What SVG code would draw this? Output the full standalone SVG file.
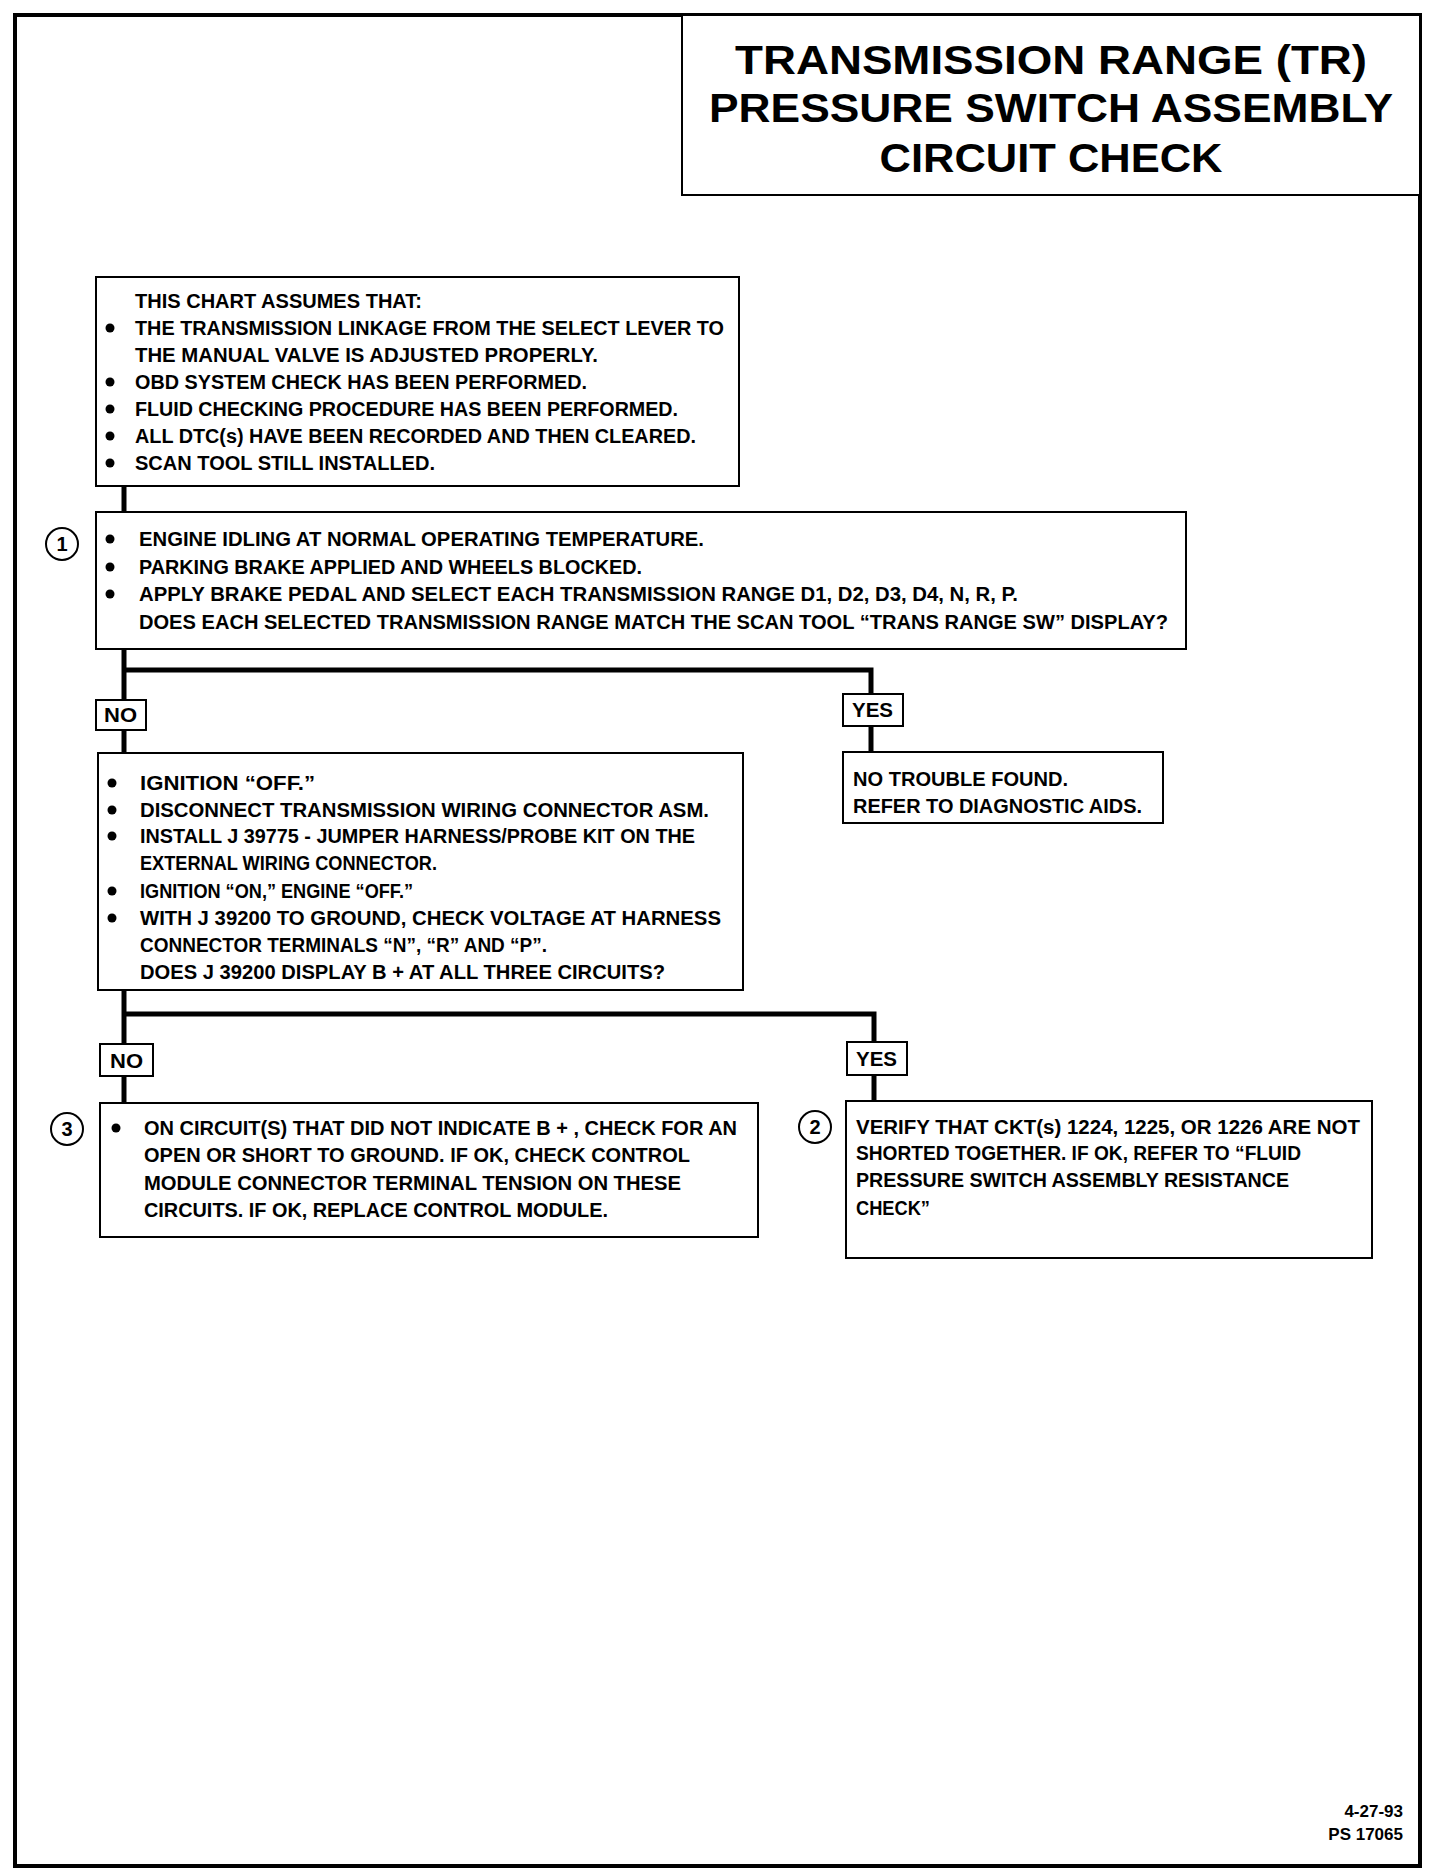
<svg xmlns="http://www.w3.org/2000/svg" width="1440" height="1876" viewBox="0 0 1440 1876">
<style>
.t{font-family:"Liberation Sans",Arial,sans-serif;font-weight:bold;font-size:20px;fill:#000}
.ti{font-family:"Liberation Sans",Arial,sans-serif;font-weight:bold;font-size:41px;fill:#000;text-anchor:middle}
.box{fill:#fff;stroke:#000;stroke-width:2}
.lbl{fill:#fff;stroke:#000;stroke-width:2}
.c{fill:none;stroke:#000;stroke-width:5}
.circ{fill:#fff;stroke:#000;stroke-width:2}
.num{font-family:"Liberation Sans",Arial,sans-serif;font-weight:bold;font-size:20px;text-anchor:middle}
</style>
<defs><circle id="b" r="4.5" fill="#000"/></defs>
<rect x="0" y="0" width="1440" height="1876" fill="#fff"/>
<rect x="15" y="15" width="1405" height="1851" fill="none" stroke="#000" stroke-width="4"/>

<g id="connectors">
<path class="c" d="M124 486V753"/>
<path class="c" d="M124 670H871V694"/>
<path class="c" d="M871 726V752"/>
<path class="c" d="M124 990V1103"/>
<path class="c" d="M124 1014H874V1042"/>
<path class="c" d="M874 1075V1101"/>
</g>

<g id="title">
<rect class="box" x="682" y="15" width="738" height="180"/>
<text class="ti" x="1051" y="74" textLength="632" lengthAdjust="spacingAndGlyphs">TRANSMISSION RANGE (TR)</text>
<text class="ti" x="1051" y="122" textLength="684" lengthAdjust="spacingAndGlyphs">PRESSURE SWITCH ASSEMBLY</text>
<text class="ti" x="1051" y="172" textLength="343" lengthAdjust="spacingAndGlyphs">CIRCUIT CHECK</text>
</g>

<g id="assumptions">
<rect class="box" x="96" y="277" width="643" height="209"/>
<text class="t" x="135" y="308" textLength="287" lengthAdjust="spacingAndGlyphs">THIS CHART ASSUMES THAT:</text>
<use href="#b" x="110" y="328"/>
<text class="t" x="135" y="335" textLength="589" lengthAdjust="spacingAndGlyphs">THE TRANSMISSION LINKAGE FROM THE SELECT LEVER TO</text>
<text class="t" x="135" y="362" textLength="463" lengthAdjust="spacingAndGlyphs">THE MANUAL VALVE IS ADJUSTED PROPERLY.</text>
<use href="#b" x="110" y="382"/>
<text class="t" x="135" y="389" textLength="452" lengthAdjust="spacingAndGlyphs">OBD SYSTEM CHECK HAS BEEN PERFORMED.</text>
<use href="#b" x="110" y="409"/>
<text class="t" x="135" y="416" textLength="543" lengthAdjust="spacingAndGlyphs">FLUID CHECKING PROCEDURE HAS BEEN PERFORMED.</text>
<use href="#b" x="110" y="436"/>
<text class="t" x="135" y="443" textLength="561" lengthAdjust="spacingAndGlyphs">ALL DTC(s) HAVE BEEN RECORDED AND THEN CLEARED.</text>
<use href="#b" x="110" y="463"/>
<text class="t" x="135" y="470" textLength="300" lengthAdjust="spacingAndGlyphs">SCAN TOOL STILL INSTALLED.</text>
</g>

<g id="step1">
<rect class="box" x="96" y="512" width="1090" height="137"/>
<circle class="circ" cx="62" cy="544" r="16"/>
<text class="num" x="62" y="551">1</text>
<use href="#b" x="110" y="539"/>
<text class="t" x="139" y="546" textLength="565" lengthAdjust="spacingAndGlyphs">ENGINE IDLING AT NORMAL OPERATING TEMPERATURE.</text>
<use href="#b" x="110" y="567"/>
<text class="t" x="139" y="574" textLength="503" lengthAdjust="spacingAndGlyphs">PARKING BRAKE APPLIED AND WHEELS BLOCKED.</text>
<use href="#b" x="110" y="594"/>
<text class="t" x="139" y="601" textLength="879" lengthAdjust="spacingAndGlyphs">APPLY BRAKE PEDAL AND SELECT EACH TRANSMISSION RANGE D1, D2, D3, D4, N, R, P.</text>
<text class="t" x="139" y="629" textLength="1029" lengthAdjust="spacingAndGlyphs">DOES EACH SELECTED TRANSMISSION RANGE MATCH THE SCAN TOOL “TRANS RANGE SW” DISPLAY?</text>
</g>

<g id="no1">
<rect class="lbl" x="96" y="700" width="50" height="30"/>
<text class="t" x="104" y="722" textLength="33" lengthAdjust="spacingAndGlyphs">NO</text>
</g>
<g id="yes1">
<rect class="lbl" x="843" y="694" width="60" height="32"/>
<text class="t" x="852" y="717" textLength="41" lengthAdjust="spacingAndGlyphs">YES</text>
</g>

<g id="checkVoltage">
<rect class="box" x="98" y="753" width="645" height="237"/>
<use href="#b" x="112" y="783"/>
<text class="t" x="140" y="790" textLength="175" lengthAdjust="spacingAndGlyphs">IGNITION “OFF.”</text>
<use href="#b" x="112" y="810"/>
<text class="t" x="140" y="817" textLength="569" lengthAdjust="spacingAndGlyphs">DISCONNECT TRANSMISSION WIRING CONNECTOR ASM.</text>
<use href="#b" x="112" y="836"/>
<text class="t" x="140" y="843" textLength="555" lengthAdjust="spacingAndGlyphs">INSTALL J 39775 - JUMPER HARNESS/PROBE KIT ON THE</text>
<text class="t" x="140" y="870" textLength="297" lengthAdjust="spacingAndGlyphs">EXTERNAL WIRING CONNECTOR.</text>
<use href="#b" x="112" y="891"/>
<text class="t" x="140" y="898" textLength="273" lengthAdjust="spacingAndGlyphs">IGNITION “ON,” ENGINE “OFF.”</text>
<use href="#b" x="112" y="918"/>
<text class="t" x="140" y="925" textLength="581" lengthAdjust="spacingAndGlyphs">WITH J 39200 TO GROUND, CHECK VOLTAGE AT HARNESS</text>
<text class="t" x="140" y="952" textLength="407" lengthAdjust="spacingAndGlyphs">CONNECTOR TERMINALS “N”, “R” AND “P”.</text>
<text class="t" x="140" y="979" textLength="525" lengthAdjust="spacingAndGlyphs">DOES J 39200 DISPLAY B +  AT ALL THREE CIRCUITS?</text>
</g>

<g id="noTrouble">
<rect class="box" x="843" y="752" width="320" height="71"/>
<text class="t" x="853" y="786" textLength="215" lengthAdjust="spacingAndGlyphs">NO TROUBLE FOUND.</text>
<text class="t" x="853" y="813" textLength="289" lengthAdjust="spacingAndGlyphs">REFER TO DIAGNOSTIC AIDS.</text>
</g>

<g id="no2">
<rect class="lbl" x="100" y="1044" width="53" height="32"/>
<text class="t" x="110" y="1068" textLength="33" lengthAdjust="spacingAndGlyphs">NO</text>
</g>
<g id="yes2">
<rect class="lbl" x="847" y="1042" width="60" height="33"/>
<text class="t" x="856" y="1066" textLength="41" lengthAdjust="spacingAndGlyphs">YES</text>
</g>

<g id="step3">
<rect class="box" x="100" y="1103" width="658" height="134"/>
<circle class="circ" cx="67" cy="1129" r="16"/>
<text class="num" x="67" y="1136">3</text>
<use href="#b" x="116" y="1128"/>
<text class="t" x="144" y="1135" textLength="593" lengthAdjust="spacingAndGlyphs">ON CIRCUIT(S) THAT DID NOT INDICATE B + , CHECK FOR AN</text>
<text class="t" x="144" y="1162" textLength="546" lengthAdjust="spacingAndGlyphs">OPEN OR SHORT TO GROUND.  IF OK, CHECK CONTROL</text>
<text class="t" x="144" y="1190" textLength="537" lengthAdjust="spacingAndGlyphs">MODULE CONNECTOR TERMINAL TENSION ON THESE</text>
<text class="t" x="144" y="1217" textLength="464" lengthAdjust="spacingAndGlyphs">CIRCUITS.  IF OK, REPLACE CONTROL MODULE.</text>
</g>

<g id="step2">
<rect class="box" x="846" y="1101" width="526" height="157"/>
<circle class="circ" cx="815" cy="1127" r="16"/>
<text class="num" x="815" y="1134">2</text>
<text class="t" x="856" y="1134" textLength="504" lengthAdjust="spacingAndGlyphs">VERIFY THAT CKT(s) 1224, 1225, OR 1226 ARE NOT</text>
<text class="t" x="856" y="1160" textLength="445" lengthAdjust="spacingAndGlyphs">SHORTED TOGETHER.  IF OK, REFER TO “FLUID</text>
<text class="t" x="856" y="1187" textLength="433" lengthAdjust="spacingAndGlyphs">PRESSURE SWITCH ASSEMBLY RESISTANCE</text>
<text class="t" x="856" y="1215" textLength="74" lengthAdjust="spacingAndGlyphs">CHECK”</text>
</g>

<g id="footer">
<text class="t" x="1403" y="1817" text-anchor="end" style="font-size:17px">4-27-93</text>
<text class="t" x="1403" y="1840" text-anchor="end" style="font-size:17px">PS 17065</text>
</g>
</svg>
